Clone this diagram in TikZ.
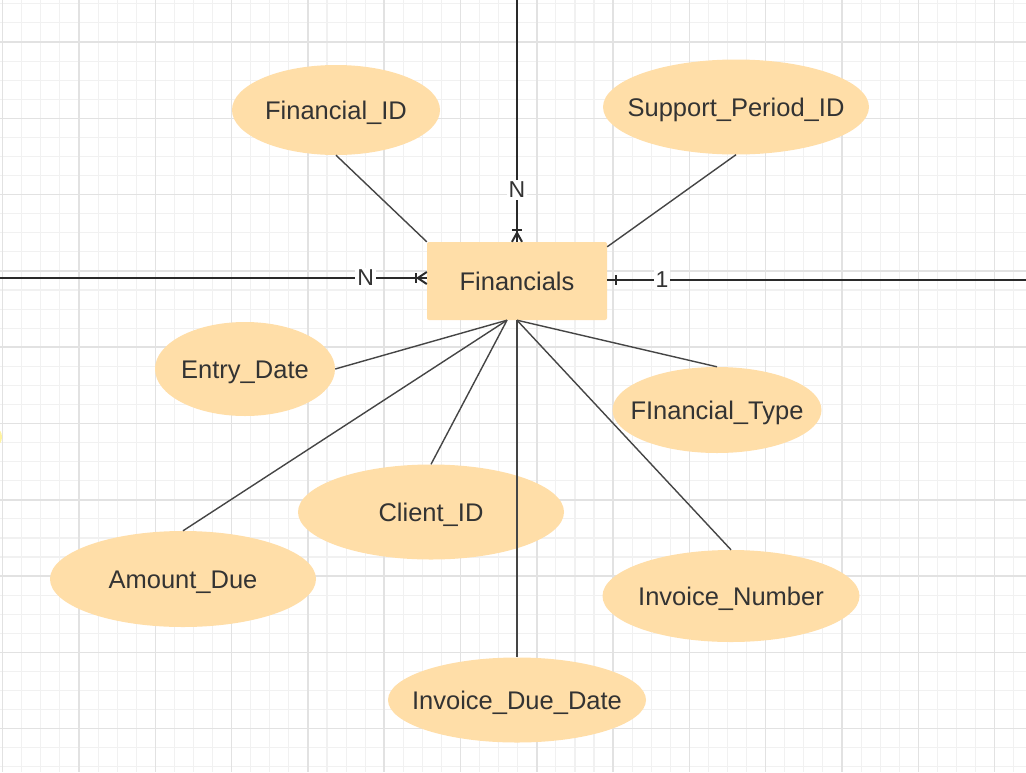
\documentclass[tikz,border=0pt]{standalone}
\usepackage{fontspec}
\setmainfont{Liberation Sans}
\usetikzlibrary{shapes.geometric}
\definecolor{peach}{HTML}{FFDEA8}
\definecolor{txt}{HTML}{333333}
\definecolor{gridminor}{HTML}{F1F1F1}
\definecolor{gridmajor}{HTML}{E2E2E2}
\definecolor{attrline}{HTML}{454545}
\definecolor{relline}{HTML}{2A2A2A}
\definecolor{blob}{HTML}{FFF3A0}
\newcommand{\zw}[1]{\raisebox{-9.5pt}[0pt][0pt]{\makebox[0pt]{#1}}}
\begin{document}
\begin{tikzpicture}[x=1pt,y=-1pt,
  minorgrid/.style={draw=gridminor, line width=1.1pt},
  majorgrid/.style={draw=gridmajor, line width=1.5pt},
  attr/.style={ellipse, fill=peach, draw=none, inner sep=0pt, text=txt,
    font=\fontsize{25.5}{30}\selectfont},
  entity/.style={rectangle, rounded corners=2pt, fill=peach, draw=none,
    minimum width=180pt, minimum height=78pt, inner sep=0pt, text=txt,
    font=\fontsize{25.5}{30}\selectfont},
  attrl/.style={draw=attrline, line width=1.4pt},
  rel/.style={draw=relline, line width=2.4pt},
  relmark/.style={draw=relline, line width=2pt},
  lbl/.style={fill=white, inner sep=2pt, text=txt, font=\fontsize{23}{27}\selectfont}]
\clip (0,0) rectangle (1026,772);
\fill[white] (0,0) rectangle (1026,772);
% grid
\foreach \k in {-4,...,49} \draw[minorgrid] ({79+19.075*\k},0) -- ++(0,772);
\foreach \k in {-2,...,38} \draw[minorgrid] (0,{42+19.075*\k}) -- ++(1026,0);
\foreach \k in {-1,...,12} \draw[majorgrid] ({79+76.3*\k},0) -- ++(0,772);
\foreach \k in {-1,...,9} \draw[majorgrid] (0,{42+76.3*\k}) -- ++(1026,0);
\fill[blob] (-3,437) ellipse (5 and 8);
% nodes
\node[entity] (fin) at (517,281) {\zw{Financials}};
\node[attr, minimum width=208pt, minimum height=90pt] (fid) at (336,110) {\zw{Financial\_ID}};
\node[attr, minimum width=266pt, minimum height=95pt] (spid) at (736,107) {\zw{Support\_Period\_ID}};
\node[attr, minimum width=180pt, minimum height=94pt] (ed) at (245,369) {\zw{Entry\_Date}};
\node[attr, minimum width=209pt, minimum height=86pt] (ft) at (717,410) {\zw{FInancial\_Type}};
\node[attr, minimum width=266pt, minimum height=95pt] (cid) at (431,512) {\zw{Client\_ID}};
\node[attr, minimum width=266pt, minimum height=96pt] (ad) at (183,579) {\zw{Amount\_Due}};
\node[attr, minimum width=257pt, minimum height=92pt] (inv) at (731,596) {\zw{Invoice\_Number}};
\node[attr, minimum width=258pt, minimum height=85pt] (idd) at (517,700) {\zw{Invoice\_Due\_Date}};
% attribute connectors
\coordinate (bl) at ([xshift=-10pt]fin.south);
\coordinate (br) at (fin.south);
\draw[attrl] (fid.south) -- (fin.north west);
\draw[attrl] (spid.south) -- ([yshift=-5pt]fin.north east);
\draw[attrl] (ed.east) -- (bl);
\draw[attrl] (ad.north) -- (bl);
\draw[attrl] (cid.north) -- (bl);
\draw[attrl] (ft.north) -- (br);
\draw[attrl] (inv.north) -- (br);
\draw[attrl] (br) -- (idd.north);
% relationship connectors
\coordinate (topend) at (517,0);
\coordinate (leftend) at (0,278);
\coordinate (rightend) at (1026,280);
\coordinate (Lc) at ([yshift=3pt]fin.west);
\coordinate (Rc) at ([yshift=1pt]fin.east);
\draw[rel] (topend) -- (fin.north) node[lbl, pos=0.785] {N};
\draw[rel] (leftend) -- (Lc) node[lbl, pos=0.857] {N};
\draw[rel] (Rc) -- (rightend) node[lbl, pos=0.131] {1};
% one-or-many marks
\draw[relmark] ([xshift=-5pt,yshift=12pt]fin.north) -- ([xshift=5pt,yshift=12pt]fin.north);
\draw[relmark] ([xshift=-5pt]fin.north) -- ([yshift=9pt]fin.north) -- ([xshift=5pt]fin.north);
\draw[relmark] ([xshift=-11pt,yshift=5pt]Lc) -- ([xshift=-11pt,yshift=-5pt]Lc);
\draw[relmark] ([yshift=6pt]Lc) -- ([xshift=-9pt]Lc) -- ([yshift=-6pt]Lc);
\draw[relmark] ([xshift=9pt,yshift=5pt]Rc) -- ([xshift=9pt,yshift=-5pt]Rc);
\end{tikzpicture}
\end{document}
